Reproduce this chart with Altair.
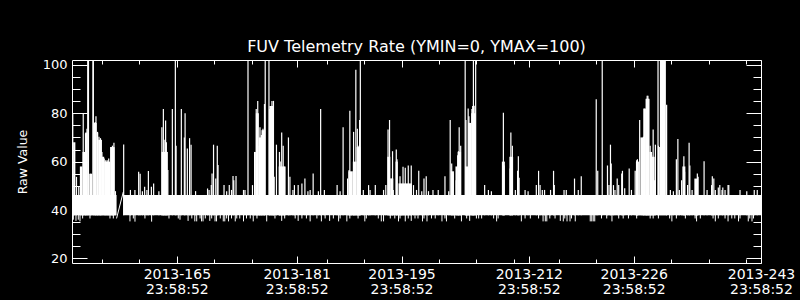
import altair as alt
import pandas as pd

# ---------------- text ----------------
TITLE = "FUV Telemetry Rate (YMIN=0, YMAX=100)"
Y_TITLE = "Raw Value"
FONT = "DejaVu Sans"

# ---------------- axes (day-of-year 2013) ----------------
x_start, x_end = 152.0, 244.0
y_min, y_max = 18.1, 102.0
tick_doy = [165, 181, 195, 212, 226, 243]
tick_year = "2013"
tick_time = "23:58:52"
minor_x = [156, 161, 171, 176, 186, 191, 201, 206, 211, 217, 222, 232, 237, 242]
major_y = [20, 40, 60, 80, 100]
minor_y = [25, 30, 35, 45, 50, 55, 65, 70, 75, 85, 90, 95]

# ---------------- data ----------------
# dense baseline band of the telemetry rate
band_start = [152.0, 158.85]
band_end = [157.95, 244.0]
band_lo = [37.8, 37.8]
band_hi = [46.2, 46.2]

# data gap (straight connecting segment)
gap_day = [157.95, 158.85]
gap_val = [36.5, 47.5]

# densely filled bursts
block_start = [152.15, 153.05, 153.4, 153.75, 154.3, 154.9, 155.3, 155.5, 156.0, 156.3, 157.1,
               163.95, 176.3, 176.55, 176.95, 177.3, 178.35, 179.6, 188.9, 189.5, 190.0,
               194.1, 194.5, 195.2, 195.6, 202.6, 203.2, 203.5, 204.5, 204.9, 205.3,
               209.4, 210.4, 227.3, 227.9, 228.3, 228.6, 229.1, 229.45, 230.3, 230.5,
               231.3, 233.5, 235.1]
block_end = [152.45, 153.4, 153.75, 154.05, 154.7, 155.3, 155.5, 156.0, 156.3, 157.1, 157.7,
             164.8, 176.55, 176.95, 177.3, 177.75, 178.95, 180.5, 189.5, 190.0, 190.5,
             194.5, 194.9, 195.5, 197.4, 203.0, 203.5, 203.95, 204.9, 205.3, 205.9,
             209.8, 210.9, 227.7, 228.3, 228.6, 229.1, 229.45, 229.8, 230.5, 231.3,
             231.45, 233.9, 235.6]
block_top = [68, 58, 64, 72, 55, 76, 72, 69, 62, 60, 66,
             64, 64, 80, 70, 73, 83, 58, 56, 60, 66,
             62, 53, 60, 51, 56, 58, 64, 58, 76, 80,
             60, 62, 60, 70, 82, 86, 64, 62, 66, 102,
             83, 58, 53]

# upward spikes (day, peak value)
peak_day = [152.1, 152.6, 152.9, 153.5, 153.8, 154.0, 154.1, 154.2, 154.5, 154.8, 154.85,
            155.1, 155.2, 155.4, 155.6, 155.8, 156.0, 156.3, 156.5, 156.7, 156.9, 157.2,
            157.4, 157.6, 157.8, 158.9, 159.8, 160.4, 160.9, 161.1, 161.4, 161.7, 162.0,
            162.2, 162.6, 162.9, 163.6, 164.0, 164.2, 164.3, 164.5, 164.6, 164.8, 165.4,
            165.8, 165.9, 166.6, 167.0, 167.1, 167.4, 167.7, 167.9, 168.5, 170.1, 170.3,
            170.6, 170.7, 170.9, 171.2, 171.4, 171.5, 172.3, 172.65, 173.0, 173.3, 173.5,
            173.6, 173.9, 174.9, 175.1, 175.5, 176.1, 176.4, 176.6, 176.8, 177.0, 177.1,
            177.3, 177.5, 177.7, 177.8, 178.3, 178.4, 178.7, 178.9, 179.0, 179.3, 179.7,
            179.8, 180.0, 180.2, 180.4, 180.9, 181.1, 181.5, 181.7, 182.2, 182.7, 183.1,
            183.5, 183.8, 184.2, 184.9, 185.2, 185.7, 187.4, 187.8, 188.2, 188.8, 189.0,
            189.1, 189.3, 189.6, 189.7, 189.9, 190.1, 190.2, 190.4, 190.5, 190.9, 191.6,
            191.8, 192.5, 193.6, 193.9, 194.2, 194.4, 194.6, 194.8, 194.9, 195.3, 195.4,
            195.8, 196.0, 196.2, 196.5, 196.9, 197.3, 197.6, 198.0, 198.3, 198.7, 199.0,
            199.3, 199.6, 200.2, 200.9, 201.8, 202.3, 202.5, 202.7, 202.9, 203.3, 203.5,
            203.6, 203.7, 203.9, 204.5, 204.6, 204.8, 204.9, 205.0, 205.4, 205.5, 205.6,
            205.7, 205.9, 207.1, 207.6, 208.0, 209.6, 209.7, 210.5, 210.6, 210.8, 211.2,
            211.5, 211.6, 211.7, 212.5, 212.9, 214.0, 214.3, 214.5, 214.8, 215.1, 215.9,
            216.3, 216.4, 217.7, 218.0, 219.1, 219.6, 220.0, 222.0, 222.2, 222.8, 223.5,
            223.7, 223.9, 224.0, 224.3, 224.5, 224.8, 225.0, 225.4, 225.5, 225.8, 226.4,
            226.7, 227.2, 227.4, 227.5, 227.8, 228.3, 228.4, 228.6, 228.7, 228.8, 228.9,
            229.0, 229.2, 229.4, 229.6, 229.8, 229.9, 230.25, 230.3, 231.4, 231.9, 232.3,
            232.7, 232.9, 233.1, 233.4, 233.7, 233.8, 234.2, 234.4, 234.5, 234.8, 235.3,
            235.5, 235.6, 236.4, 236.8, 237.4, 237.5, 237.7, 237.9, 238.3, 238.5, 238.8,
            238.9, 239.2, 239.6, 239.7, 241.2, 242.1, 243.1, 243.5]
peak_val = [80, 53.7, 49.6, 79.8, 71.6, 73.6, 102, 102, 55, 102, 102,
            76.4, 78.8, 72.3, 70.3, 69.7, 64, 61.3, 60.6, 60.6, 61.3, 66,
            66.6, 67.8, 47.8, 67.1, 48.3, 48.3, 55.8, 55, 47.8, 49.6, 48.3,
            56.1, 49.6, 51, 47.8, 74.2, 81.7, 69, 77, 68, 56.5, 81.7,
            102, 66.6, 81.7, 70, 80, 65.4, 69.7, 67, 47.8, 48.9, 48.3,
            50.3, 55.1, 67, 53, 66.6, 58.6, 50.3, 47.8, 50.3, 48.3, 54.1,
            52.3, 54.1, 48.3, 48.3, 102, 50.3, 64, 81.7, 85.1, 66.6, 74.2,
            71, 73.6, 83.8, 102, 102, 81.7, 85.1, 85.1, 53.7, 67, 64,
            60, 72, 66.6, 57.9, 70, 53.7, 48.3, 50.3, 50.3, 51, 53,
            47.8, 48.3, 55.1, 47.8, 81.7, 48.3, 50.3, 47.8, 74.2, 53, 56.5,
            81, 50.3, 72.3, 58.6, 98, 73.6, 66.6, 77.2, 102, 48.3, 50.3,
            48.3, 50.3, 48.3, 50.3, 73.3, 77.2, 53, 64.3, 48.3, 65, 61,
            54, 48.3, 57.9, 57.5, 58.4, 58.4, 50.3, 48.3, 56.2, 47.8, 53,
            54, 47.8, 48.3, 48.3, 54, 47.8, 77.2, 59.2, 55.1, 52.3, 62.6,
            64.3, 74.2, 66.6, 102, 77.2, 57.2, 82, 78.8, 81.7, 83, 102,
            83.1, 102, 50.3, 48.3, 47.8, 80.2, 58.4, 57.2, 72, 66.6, 48.3,
            56.2, 62.2, 53.3, 48.3, 47.8, 50.3, 56.2, 50.3, 48.3, 48.3, 48.3,
            56.2, 50.3, 48.3, 48.3, 53, 48.3, 54, 85.8, 56.2, 102, 58.4,
            50.3, 67, 59.2, 50.3, 48.3, 53, 50.3, 55.1, 56.2, 49, 57.2,
            48.3, 56.2, 60.6, 61, 77.2, 70.3, 81.7, 81.7, 85.8, 87.2, 87.2,
            85.8, 66.6, 62.6, 73.3, 52.3, 67, 102, 66.6, 83.5, 48.3, 47.8,
            61, 69.4, 48.3, 52.3, 62.2, 55.8, 50.3, 67.8, 58.4, 48.3, 52.3,
            55.1, 53.7, 60.2, 48.3, 50.3, 54, 53, 48.3, 49.3, 50.3, 48.3,
            49.3, 48.3, 50.3, 50.3, 48.3, 47.8, 48.3, 48.3]

# downward dips below the band (day, minimum value)
dip_day = [152.18, 152.53, 152.84, 153.07, 153.42, 154.4, 157.07, 157.52, 159.74, 160.19, 160.41,
           161.74, 162.63, 164.95, 166.19, 166.42, 167.5, 168.0, 168.4, 168.65, 169.1, 169.3,
           169.5, 169.8, 170.4, 170.65, 171.1, 171.3, 171.8, 172.2, 172.4, 172.65, 172.9,
           173.3, 173.8, 174.0, 174.4, 174.9, 175.3, 175.8, 176.2, 176.7, 178.0, 179.1,
           180.0, 180.4, 181.8, 182.2, 182.7, 183.3, 183.8, 184.7, 185.3, 185.8, 186.4,
           186.9, 187.6, 187.8, 188.7, 189.1, 190.2, 191.1, 191.3, 192.9, 193.3, 193.6,
           194.5, 195.1, 195.6, 195.8, 196.5, 196.9, 197.3, 197.8, 198.2, 198.8, 199.0,
           199.4, 200.0, 200.5, 201.4, 201.8, 202.0, 203.1, 204.0, 204.7, 205.1, 206.0,
           206.3, 206.7, 208.3, 208.7, 208.9, 212.0, 212.5, 213.2, 214.3, 214.9, 215.2,
           215.4, 215.8, 216.5, 217.2, 217.6, 217.8, 218.1, 218.5, 218.7, 219.2, 221.2,
           221.4, 221.6, 221.8, 222.7, 223.4, 224.1, 225.0, 225.6, 226.3, 227.4, 229.2,
           229.6, 230.3, 231.8, 232.1, 232.7, 233.9, 235.2, 235.4, 235.9, 237.6, 237.9,
           238.3, 239.2, 239.6, 240.1, 240.5, 241.0, 241.2, 242.3, 242.5, 242.8, 243.0]
dip_val = [36, 35.5, 36, 35.3, 36.5, 36.5, 36.5, 36.5, 35.3, 36.5, 35.2,
           36.5, 35.2, 36.5, 36.5, 36, 35.5, 36.5, 35.3, 35.3, 36.5, 35.3,
           35.3, 36.5, 35.5, 36.5, 35.3, 35.3, 36.5, 35.3, 35.3, 36.5, 35.3,
           36.5, 35.3, 36.5, 36.5, 35.3, 36.5, 36.5, 35.3, 36.5, 35.3, 36.5,
           35.5, 36.5, 36.5, 35.5, 36.5, 36.5, 35.3, 36.5, 35.3, 36.5, 35.5,
           36.5, 35.3, 36.5, 35.3, 36.5, 36.5, 35.3, 36.5, 36.5, 35.3, 35.3,
           36.5, 36.5, 35.3, 36.5, 35.3, 36.5, 35.5, 36.5, 36.5, 35.3, 36.5,
           35.3, 36.5, 36.5, 35.3, 36.5, 35.3, 36.5, 35.3, 36.5, 35.5, 36.5,
           36.5, 36.5, 36.5, 35.3, 36.5, 35.3, 36.5, 36.5, 36.5, 35.3, 35.3,
           35.3, 36.5, 36.5, 35.5, 35.3, 36.5, 35.3, 35.3, 36.5, 35.3, 35.3,
           35.3, 35.3, 35.3, 36.5, 36.5, 35.3, 36.5, 36.5, 36.5, 36.5, 36.5,
           36.5, 36.5, 36.5, 35.3, 36.5, 36.5, 36.5, 35.3, 36.5, 36.5, 35.3,
           36.5, 36.5, 35.3, 36.5, 36.5, 35.3, 36.5, 35.3, 36.5, 35.3, 36.5]

# ---------------- tables ----------------
band_df = pd.DataFrame({"start": band_start, "end": band_end, "lo": band_lo, "hi": band_hi})
gap_df = pd.DataFrame({"day": gap_day, "val": gap_val})
block_df = pd.DataFrame({"start": block_start, "end": block_end, "top": block_top})
block_df["lo"] = band_lo[0]
peak_df = pd.DataFrame({"day": peak_day, "val": peak_val})
peak_df["base"] = band_lo[0]
dip_df = pd.DataFrame({"day": dip_day, "val": dip_val})
dip_df["base"] = band_hi[0] - 4

# tick positions at 23:58:52 of each labelled day
frac = (23 * 3600 + 58 * 60 + 52) / 86400.0
major_x = [d + frac for d in tick_doy]
parts = [f"abs(datum.value - {v:.5f}) < 0.01 ? ['{tick_year}-{d}', '{tick_time}']"
         for v, d in zip(major_x, tick_doy)]
label_expr = " : ".join(parts) + " : ''"

WHITE = "white"


def x_axis(orient, values, size, labels=False):
    kw = dict(orient=orient, values=values, tickSize=size, offset=-size, labels=labels,
              domain=False, grid=False, ticks=True, tickColor=WHITE, tickWidth=1, title=None)
    if labels:
        kw.update(labelExpr=label_expr, labelColor=WHITE, labelFont=FONT, labelFontSize=14,
                  labelPadding=4, labelFlush=False, labelOverlap=False, labelBound=False,
                  labelLineHeight=15, labelAlign="center")
    return alt.Axis(**kw)


def y_axis(orient, values, size, labels=False):
    kw = dict(orient=orient, values=values, tickSize=size, offset=-size, labels=labels,
              domain=False, grid=False, ticks=True, tickColor=WHITE, tickWidth=1, title=None)
    if labels:
        kw.update(labelColor=WHITE, labelFont=FONT, labelFontSize=13, labelPadding=5,
                  labelOverlap=False, labelFlush=False, labelBound=False, format="d",
                  title=Y_TITLE, titleColor=WHITE, titleFont=FONT, titleFontSize=12.5,
                  titleFontWeight="normal", titlePadding=13)
    return alt.Axis(**kw)


sx = alt.Scale(domain=[x_start, x_end], nice=False, zero=False)
sy = alt.Scale(domain=[y_min, y_max], nice=False, zero=False)

band = alt.Chart(band_df).mark_rect(color=WHITE, clip=True).encode(
    x=alt.X("start:Q", scale=sx, axis=x_axis("bottom", major_x, 7, labels=True)),
    x2="end:Q",
    y=alt.Y("lo:Q", scale=sy, axis=y_axis("left", major_y, 15, labels=True)),
    y2="hi:Q",
)

blocks = alt.Chart(block_df).mark_rect(color=WHITE, clip=True).encode(
    x=alt.X("start:Q", scale=sx, axis=x_axis("bottom", minor_x, 4)),
    x2="end:Q",
    y=alt.Y("lo:Q", scale=sy, axis=y_axis("left", minor_y, 8)),
    y2="top:Q",
)

spikes = alt.Chart(peak_df).mark_rule(color=WHITE, strokeWidth=1.2, clip=True).encode(
    x=alt.X("day:Q", scale=sx, axis=x_axis("top", major_x, 7)),
    y=alt.Y("base:Q", scale=sy, axis=y_axis("right", major_y, 15)),
    y2="val:Q",
)

dips = alt.Chart(dip_df).mark_rule(color=WHITE, strokeWidth=1, clip=True).encode(
    x=alt.X("day:Q", scale=sx, axis=x_axis("top", minor_x, 4)),
    y=alt.Y("base:Q", scale=sy, axis=y_axis("right", minor_y, 8)),
    y2="val:Q",
)

gap = alt.Chart(gap_df).mark_line(color=WHITE, strokeWidth=1, clip=True).encode(
    x=alt.X("day:Q", scale=sx, axis=None),
    y=alt.Y("val:Q", scale=sy, axis=None),
)

chart = (
    alt.layer(band, blocks, spikes, dips, gap)
    .resolve_axis(x="independent", y="independent")
    .properties(
        width=689,
        height=203,
        autosize=alt.AutoSizeParams(type="none"),
        padding={"left": 72, "top": 60, "right": 39, "bottom": 37},
        background="black",
        title=alt.TitleParams(
            TITLE, color=WHITE, font=FONT, fontSize=16, fontWeight="normal",
            anchor="middle", baseline="alphabetic", offset=7, dy=16, frame="group",
        ),
    )
    .configure_view(stroke=WHITE, strokeWidth=1, fill="black")
)

chart.save("out.html", embed_options={"renderer": "svg", "actions": False})
